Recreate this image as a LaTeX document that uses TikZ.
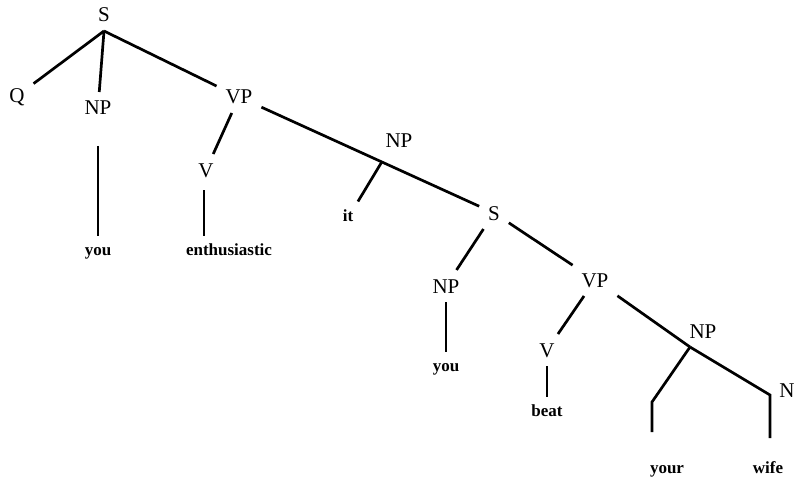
\documentclass[tikz,border=0pt]{standalone}
\usepackage{fontspec}
\setmainfont{Liberation Serif}
\usetikzlibrary{positioning, calc}

\tikzset{
  cat/.style={font=\fontsize{21}{22}\selectfont, text height=14pt, text depth=0pt, inner sep=4pt, outer sep=5pt},
  leaf/.style={font=\fontsize{17}{19}\selectfont\bfseries, text height=11pt, text depth=4pt, inner sep=3pt, outer sep=6pt},
  branch/.style={line width=2.7pt}
}

\begin{document}
\begin{tikzpicture}[x=1pt, y=-1pt]
    \useasboundingbox (0,0) rectangle (795,484);

    % main clause
    \node[cat] (s1) at (104,15) {S};
    \node[cat] (q) at (17,96) {Q};
    \node[cat] (np1) at (98,108) {NP};
    \node[cat] (vp1) at (239,97) {VP};
    \node[leaf] (you1) at (98,252) {you};
    \node[cat] (v1) at (206,170) {V};
    \node[leaf] (enth) at (229,252) {enthusiastic};
    \coordinate (vtop) at (204,190);

    \draw[branch] (s1.south) -- (q);
    \draw[branch] (s1.south) -- (np1);
    \draw[branch] (s1.south) -- (vp1);
    \draw[branch, shorten <=22pt] (np1.south) -- (you1.north);
    \draw[branch] (vp1) -- (v1);
    \draw[branch] (vtop) -- (vtop |- enth.north);

    % embedded clause
    \node[cat] (s2) at (494,213) {S};
    \coordinate (npfork) at ($(vp1)!0.56!(s2)$);
    \node[cat] (np2) at (399,140) {NP};
    \node[leaf] (it) at (348,218) {it};
    \draw[branch] (vp1) -- (s2);
    \draw[branch] (npfork) -- (it);

    \node[cat] (np3) at (446,286) {NP};
    \node[leaf] (you2) at (446,368) {you};
    \node[cat] (vp2) at (595,280) {VP};
    \node[cat] (v2) at (547,350) {V};
    \node[leaf] (beat) at (547,413) {beat};
    \draw[branch] (s2) -- (np3);
    \draw[branch] (s2) -- (vp2);
    \draw[branch] (np3) -- (you2);
    \draw[branch] (vp2) -- (v2);
    \draw[branch] (v2) -- (beat);

    % object NP
    \node[cat] (np4) at (703,331) {NP};
    \coordinate (np4fork) at ([xshift=-13pt]np4.south);
    \node[cat] (n) at (787,390) {N};
    \node[leaf] (your) at (667,470) {your};
    \node[leaf] (wife) at (768,470) {wife};
    \coordinate (detbend) at (652,402);
    \coordinate (detend) at (652,432);
    \coordinate (nbend) at (770,395);
    \coordinate (nend) at (770,438);
    \draw[branch] (vp2) -- (np4fork);
    \draw[branch] (np4fork) -- (detbend) -- (detend);
    \draw[branch] (np4fork) -- (nbend) -- (nend);
\end{tikzpicture}
\end{document}
